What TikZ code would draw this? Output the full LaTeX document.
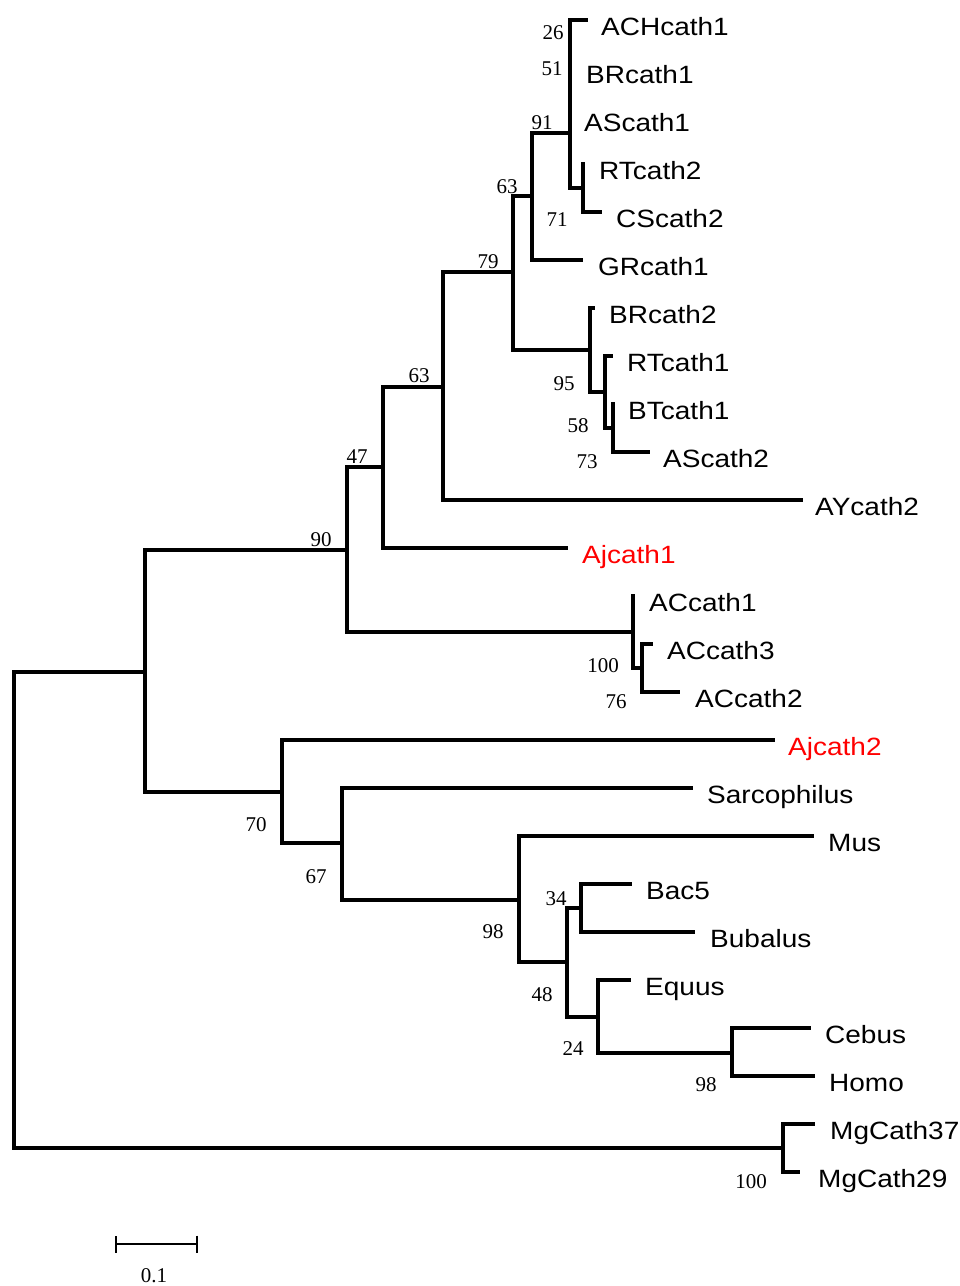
\documentclass[tikz,border=0pt]{standalone}
\usepackage{fontspec}
\setmainfont{Liberation Serif}
\newfontfamily\taxonfont[FakeStretch=1.12]{Liberation Sans}
\usepackage{tikz}
\usetikzlibrary{arrows.meta}

\begin{document}
\begin{tikzpicture}[x=1pt,y=-1pt,
        branch/.style={line width=3.8pt,line cap=rect},
        taxon/.style={anchor=base west,inner sep=0pt,
            font=\taxonfont\fontsize{25}{29}\selectfont},
        boot/.style={inner sep=0pt,font=\fontsize{21}{24}\selectfont}]
    \useasboundingbox (0,0) rectangle (960,1286);

    % internal nodes
    \coordinate (root) at (14,672);
    \coordinate (nA) at (145,672);
    \coordinate (n90) at (347,550);
    \coordinate (n47) at (383,467);
    \coordinate (n63b) at (443,387);
    \coordinate (n79) at (513,272);
    \coordinate (n63a) at (532,196);
    \coordinate (n91) at (570,133);
    \coordinate (n51) at (570,92);
    \coordinate (n26) at (570,44);
    \coordinate (n71) at (583,188);
    \coordinate (n95) at (590,350);
    \coordinate (n58) at (605,392);
    \coordinate (n73) at (613,428);
    \coordinate (nAC) at (633,632);
    \coordinate (n76) at (642,668);
    \coordinate (n70) at (282,792);
    \coordinate (n67) at (342,843);
    \coordinate (n98a) at (519,900);
    \coordinate (n48) at (567,962);
    \coordinate (n34) at (581,908);
    \coordinate (n24) at (598,1017);
    \coordinate (n98b) at (732,1053);
    \coordinate (nMg) at (783,1148);

    % leaves
    \coordinate (ACHcath1) at (586,20);
    \coordinate (BRcath1) at (570,68);
    \coordinate (AScath1) at (570,116);
    \coordinate (RTcath2) at (583,164);
    \coordinate (CScath2) at (600,212);
    \coordinate (GRcath1) at (581,260);
    \coordinate (BRcath2) at (593,308);
    \coordinate (RTcath1) at (611,356);
    \coordinate (BTcath1) at (613,404);
    \coordinate (AScath2) at (648,452);
    \coordinate (AYcath2) at (801,500);
    \coordinate (Ajcath1) at (566,548);
    \coordinate (ACcath1) at (633,596);
    \coordinate (ACcath3) at (651,644);
    \coordinate (ACcath2) at (678,692);
    \coordinate (Ajcath2) at (773,740);
    \coordinate (Sarcophilus) at (691,788);
    \coordinate (Mus) at (812,836);
    \coordinate (Bac5) at (630,884);
    \coordinate (Bubalus) at (693,932);
    \coordinate (Equus) at (629,980);
    \coordinate (Cebus) at (809,1028);
    \coordinate (Homo) at (813,1076);
    \coordinate (MgCath37) at (813,1124);
    \coordinate (MgCath29) at (798,1172);

    \draw[branch]
        (root) |- (nA) (root) |- (nMg)
        (nA) |- (n90) (nA) |- (n70)
        (n90) |- (n47) (n90) |- (nAC)
        (n47) |- (n63b) (n47) |- (Ajcath1)
        (n63b) |- (n79) (n63b) |- (AYcath2)
        (n79) |- (n63a) (n79) |- (n95)
        (n63a) |- (n91) (n63a) |- (GRcath1)
        (n91) |- (n51) (n91) |- (n71)
        (n51) |- (n26) (n51) |- (AScath1)
        (n26) |- (ACHcath1) (n26) |- (BRcath1)
        (n71) |- (RTcath2) (n71) |- (CScath2)
        (n95) |- (BRcath2) (n95) |- (n58)
        (n58) |- (RTcath1) (n58) |- (n73)
        (n73) |- (BTcath1) (n73) |- (AScath2)
        (nAC) |- (ACcath1) (nAC) |- (n76)
        (n76) |- (ACcath3) (n76) |- (ACcath2)
        (n70) |- (Ajcath2) (n70) |- (n67)
        (n67) |- (Sarcophilus) (n67) |- (n98a)
        (n98a) |- (Mus) (n98a) |- (n48)
        (n48) |- (n34) (n48) |- (n24)
        (n34) |- (Bac5) (n34) |- (Bubalus)
        (n24) |- (Equus) (n24) |- (n98b)
        (n98b) |- (Cebus) (n98b) |- (Homo)
        (nMg) |- (MgCath37) (nMg) |- (MgCath29);

    % taxon names
    \node[taxon] (ACHcath1-t) at (601,35) {ACHcath1};
    \node[taxon] (BRcath1-t) at (586,83) {BRcath1};
    \node[taxon] (AScath1-t) at (584,131) {AScath1};
    \node[taxon] (RTcath2-t) at (599,179) {RTcath2};
    \node[taxon] (CScath2-t) at (616,227) {CScath2};
    \node[taxon] (GRcath1-t) at (598,275) {GRcath1};
    \node[taxon] (BRcath2-t) at (609,323) {BRcath2};
    \node[taxon] (RTcath1-t) at (627,371) {RTcath1};
    \node[taxon] (BTcath1-t) at (628,419) {BTcath1};
    \node[taxon] (AScath2-t) at (663,467) {AScath2};
    \node[taxon] (AYcath2-t) at (815,515) {AYcath2};
    \node[taxon,red] (Ajcath1-t) at (582,563) {Ajcath1};
    \node[taxon] (ACcath1-t) at (649,611) {ACcath1};
    \node[taxon] (ACcath3-t) at (667,659) {ACcath3};
    \node[taxon] (ACcath2-t) at (695,707) {ACcath2};
    \node[taxon,red] (Ajcath2-t) at (788,755) {Ajcath2};
    \node[taxon] (Sarcophilus-t) at (707,803) {Sarcophilus};
    \node[taxon] (Mus-t) at (828,851) {Mus};
    \node[taxon] (Bac5-t) at (646,899) {Bac5};
    \node[taxon] (Bubalus-t) at (710,947) {Bubalus};
    \node[taxon] (Equus-t) at (645,995) {Equus};
    \node[taxon] (Cebus-t) at (825,1043) {Cebus};
    \node[taxon] (Homo-t) at (829,1091) {Homo};
    \node[taxon] (MgCath37-t) at (830,1139) {MgCath37};
    \node[taxon] (MgCath29-t) at (818,1187) {MgCath29};

    % bootstrap values
    \node[boot] (b26) at (553,33) {26};
    \node[boot] (b51) at (552,69) {51};
    \node[boot] (b91) at (542,123) {91};
    \node[boot] (b63a) at (507,187) {63};
    \node[boot] (b71) at (557,220) {71};
    \node[boot] (b79) at (488,262) {79};
    \node[boot] (b95) at (564,384) {95};
    \node[boot] (b58) at (578,426) {58};
    \node[boot] (b73) at (587,462) {73};
    \node[boot] (b63b) at (419,376) {63};
    \node[boot] (b47) at (357,457) {47};
    \node[boot] (b90) at (321,540) {90};
    \node[boot] (b100a) at (603,666) {100};
    \node[boot] (b76) at (616,702) {76};
    \node[boot] (b70) at (256,825) {70};
    \node[boot] (b67) at (316,877) {67};
    \node[boot] (b98a) at (493,932) {98};
    \node[boot] (b34) at (556,899) {34};
    \node[boot] (b48) at (542,995) {48};
    \node[boot] (b24) at (573,1049) {24};
    \node[boot] (b98b) at (706,1085) {98};
    \node[boot] (b100b) at (751,1182) {100};

    % scale bar
    \coordinate (sbL) at (115,1244);
    \coordinate (sbR) at (198,1244);
    \draw[line width=2pt,{Bar[width=17pt]}-{Bar[width=17pt]}] (sbL) -- (sbR);
    \node[boot] (sb) at (154,1276) {0.1};
\end{tikzpicture}
\end{document}
